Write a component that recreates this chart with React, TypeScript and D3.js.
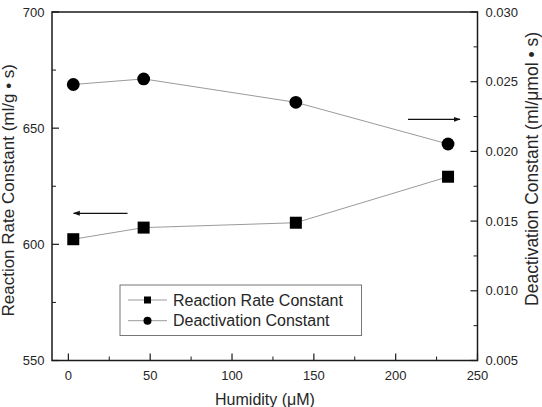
import React from "react";
import * as d3 from "d3";

// Humidity levels (µM) and the two measured series
const humidity = [3, 46, 139, 232];
const reactionRate = [602.2, 607.2, 609.3, 629.1];
const deactivation = [0.0248, 0.0252, 0.02352, 0.02053];

const xTicks = [0, 50, 100, 150, 200, 250];
const xMinor = [25, 75, 125, 175, 225];
const leftTicks = [550, 600, 650, 700];
const leftMinor = [575, 625, 675];
const rightTicks = [0.005, 0.01, 0.015, 0.02, 0.025, 0.03];
const rightMinor = [0.0075, 0.0125, 0.0175, 0.0225, 0.0275];

const W = 542;
const H = 407;
const L = 52;
const R = 477.5;
const T = 12;
const B = 360.5;

const FONT = "'Liberation Sans', Arial, sans-serif";
const TXT = "#262626";

export default function App() {
  const x = d3.scaleLinear().domain([-10, 250]).range([L, R]);
  const yL = d3.scaleLinear().domain([550, 700]).range([B, T]);
  const yR = d3.scaleLinear().domain([0.005, 0.03]).range([B, T]);

  const rateData = humidity.map((h, i) => [h, reactionRate[i]] as [number, number]);
  const deacData = humidity.map((h, i) => [h, deactivation[i]] as [number, number]);

  const rateLine = d3
    .line<[number, number]>()
    .x((d) => x(d[0]))
    .y((d) => yL(d[1]))(rateData);
  const deacLine = d3
    .line<[number, number]>()
    .x((d) => x(d[0]))
    .y((d) => yR(d[1]))(deacData);

  const sq = 12;
  const rad = 6.4;

  return (
    <svg
      width={W}
      height={H}
      style={{ position: "absolute", left: 0, top: 0, background: "#fff" }}
      fontFamily={FONT}
    >
      <defs>
        <marker
          id="arrowHead"
          viewBox="0 0 10 10"
          refX="9"
          refY="5"
          markerWidth="7"
          markerHeight="7"
          markerUnits="userSpaceOnUse"
          orient="auto"
        >
          <path d="M0,1.5 L10,5 L0,8.5 Z" fill="#111" />
        </marker>
      </defs>
      <rect width={W} height={H} fill="#fff" />

      {/* series lines */}
      <path d={rateLine ?? ""} fill="none" stroke="#9a9a9a" strokeWidth={1} />
      <path d={deacLine ?? ""} fill="none" stroke="#9a9a9a" strokeWidth={1} />

      {/* markers */}
      {rateData.map((d, i) => (
        <rect
          key={"s" + i}
          x={x(d[0]) - sq / 2}
          y={yL(d[1]) - sq / 2}
          width={sq}
          height={sq}
          fill="#000"
        />
      ))}
      {deacData.map((d, i) => (
        <circle key={"c" + i} cx={x(d[0])} cy={yR(d[1])} r={rad} fill="#000" />
      ))}

      {/* axis-direction arrows */}
      <line x1={127.5} y1={213.3} x2={73.5} y2={213.3} stroke="#111" strokeWidth={1.3} markerEnd="url(#arrowHead)" />
      <line x1={408} y1={119.3} x2={460} y2={119.3} stroke="#111" strokeWidth={1.3} markerEnd="url(#arrowHead)" />

      {/* frame */}
      <rect x={L} y={T} width={R - L} height={B - T} fill="none" stroke="#1a1a1a" strokeWidth={1.5} />

      {/* bottom axis ticks */}
      {xTicks.map((t) => (
        <g key={"xt" + t}>
          <line x1={x(t)} x2={x(t)} y1={B} y2={B - 7} stroke="#1a1a1a" strokeWidth={1.2} />
          <text x={x(t)} y={380} textAnchor="middle" fontSize={13} fill={TXT}>
            {t}
          </text>
        </g>
      ))}
      {xMinor.map((t) => (
        <line key={"xm" + t} x1={x(t)} x2={x(t)} y1={B} y2={B - 4} stroke="#1a1a1a" strokeWidth={1} />
      ))}

      {/* left axis ticks */}
      {leftTicks.map((t) => (
        <g key={"lt" + t}>
          <line x1={L} x2={L + 7} y1={yL(t)} y2={yL(t)} stroke="#1a1a1a" strokeWidth={1.2} />
          <text x={44.5} y={yL(t) + 4.6} textAnchor="end" fontSize={13} fill={TXT}>
            {t}
          </text>
        </g>
      ))}
      {leftMinor.map((t) => (
        <line key={"lm" + t} x1={L} x2={L + 4} y1={yL(t)} y2={yL(t)} stroke="#1a1a1a" strokeWidth={1} />
      ))}

      {/* right axis ticks */}
      {rightTicks.map((t) => (
        <g key={"rt" + t}>
          <line x1={R} x2={R - 7} y1={yR(t)} y2={yR(t)} stroke="#1a1a1a" strokeWidth={1.2} />
          <text x={485.5} y={yR(t) + 4.6} textAnchor="start" fontSize={13} fill={TXT}>
            {d3.format(".3f")(t)}
          </text>
        </g>
      ))}
      {rightMinor.map((t) => (
        <line key={"rm" + t} x1={R} x2={R - 4} y1={yR(t)} y2={yR(t)} stroke="#1a1a1a" strokeWidth={1} />
      ))}

      {/* axis titles */}
      <text x={265} y={404.5} textAnchor="middle" fontSize={16} fill={TXT}>
        Humidity (μM)
      </text>
      <text
        transform={`translate(13.5, ${(T + B) / 2 + 4}) rotate(-90)`}
        textAnchor="middle"
        fontSize={17}
        fill={TXT}
      >
        Reaction Rate Constant (ml/g • s)
      </text>
      <text
        transform={`translate(537.5, ${169}) rotate(-90)`}
        textAnchor="middle"
        fontSize={17.5}
        fill={TXT}
      >
        Deactivation Constant (ml/μmol • s)
      </text>

      {/* legend */}
      <rect x={120} y={285} width={241.5} height={50.5} fill="#fff" stroke="#777" strokeWidth={1} />
      <line x1={128} x2={167} y1={300} y2={300} stroke="#9a9a9a" strokeWidth={1} />
      <rect x={147.5 - 3.5} y={300 - 3.5} width={7} height={7} fill="#000" />
      <text x={173} y={305.6} fontSize={16} fill={TXT}>
        Reaction Rate Constant
      </text>
      <line x1={128} x2={167} y1={320.7} y2={320.7} stroke="#9a9a9a" strokeWidth={1} />
      <circle cx={147.5} cy={320.7} r={4} fill="#000" />
      <text x={173} y={326.3} fontSize={16} fill={TXT}>
        Deactivation Constant
      </text>
    </svg>
  );
}
